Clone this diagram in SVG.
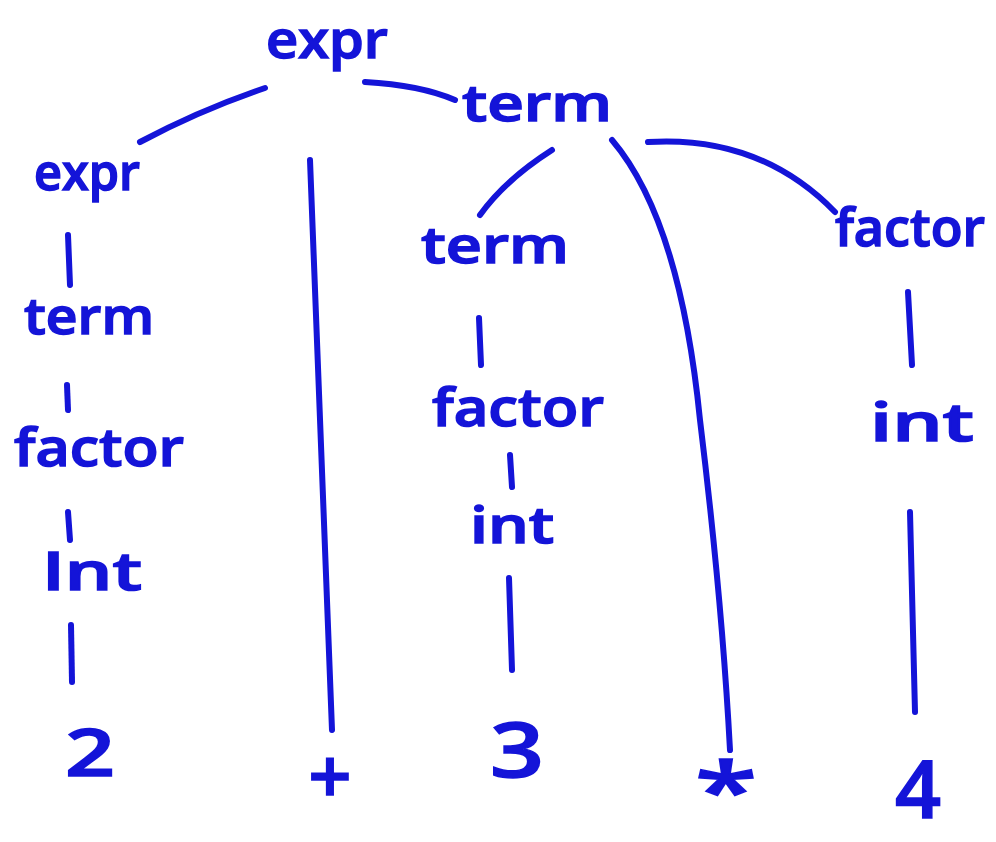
<svg xmlns="http://www.w3.org/2000/svg" width="996" height="842" viewBox="0 0 996 842">
<style>
.l{fill:#1414d8;font-family:"Open Sans","Liberation Sans",sans-serif;font-weight:600;stroke:#1414d8;stroke-width:1.5;text-anchor:middle}
.e{fill:none;stroke:#1414d8;stroke-width:6;stroke-linecap:round}
</style>
<rect width="996" height="842" fill="#fff"/>
<g id="edges">
<path class="e" d="M265,88 Q200,110 140,142"/>
<path class="e" d="M365,82 Q420,85 455,100"/>
<path class="e" d="M310,160 Q322,450 332,730"/>
<path class="e" d="M68,235 L70,285"/>
<path class="e" d="M67,385 L68,410"/>
<path class="e" d="M68,512 L70,540"/>
<path class="e" d="M71,625 L72,682"/>
<path class="e" d="M552,150 Q505,180 480,215"/>
<path class="e" d="M612,140 Q680,220 700,420 Q722,600 730,750"/>
<path class="e" d="M648,142 Q760,135 835,212"/>
<path class="e" d="M479,318 L481,365"/>
<path class="e" d="M510,455 L512,487"/>
<path class="e" d="M509,578 L512,670"/>
<path class="e" d="M908,292 L912,365"/>
<path class="e" d="M910,512 L915,712"/>
</g>
<g id="n_expr_top"><text class="l" x="327" y="58" font-size="52" textLength="122" lengthAdjust="spacingAndGlyphs">expr</text></g>
<g id="n_term_top"><text class="l" x="537" y="121" font-size="50" textLength="150" lengthAdjust="spacingAndGlyphs">term</text></g>
<g id="n_expr_left"><text class="l" x="87" y="190" font-size="50" textLength="106" lengthAdjust="spacingAndGlyphs">expr</text></g>
<g id="n_term_left"><text class="l" x="89" y="334" font-size="50" textLength="130" lengthAdjust="spacingAndGlyphs">term</text></g>
<g id="n_factor_left"><text class="l" x="99" y="466" font-size="52" textLength="170" lengthAdjust="spacingAndGlyphs">factor</text></g>
<g id="n_int_left"><text class="l" x="92" y="590" font-size="52" textLength="100" lengthAdjust="spacingAndGlyphs">Int</text></g>
<g id="n_2"><text class="l" x="90" y="776" font-size="66" textLength="50" lengthAdjust="spacingAndGlyphs">2</text></g>
<g id="n_plus"><text class="l" x="330" y="804" font-size="76">+</text></g>
<g id="n_term_mid"><text class="l" x="495" y="263" font-size="50" textLength="148" lengthAdjust="spacingAndGlyphs">term</text></g>
<g id="n_factor_mid"><text class="l" x="518" y="426" font-size="52" textLength="172" lengthAdjust="spacingAndGlyphs">factor</text></g>
<g id="n_int_mid"><text class="l" x="512" y="543" font-size="50" textLength="84" lengthAdjust="spacingAndGlyphs">int</text></g>
<g id="n_3"><text class="l" x="517" y="777" font-size="76" textLength="54" lengthAdjust="spacingAndGlyphs">3</text></g>
<g id="n_star"><text class="l" x="726" y="820" font-size="80" textLength="62" lengthAdjust="spacingAndGlyphs">*</text></g>
<g id="n_factor_right"><text class="l" x="910" y="246" font-size="52" textLength="150" lengthAdjust="spacingAndGlyphs">factor</text></g>
<g id="n_int_right"><text class="l" x="922" y="441" font-size="52" textLength="104" lengthAdjust="spacingAndGlyphs">int</text></g>
<g id="n_4"><text class="l" x="918" y="818" font-size="80" textLength="46" lengthAdjust="spacingAndGlyphs">4</text></g>
</svg>
